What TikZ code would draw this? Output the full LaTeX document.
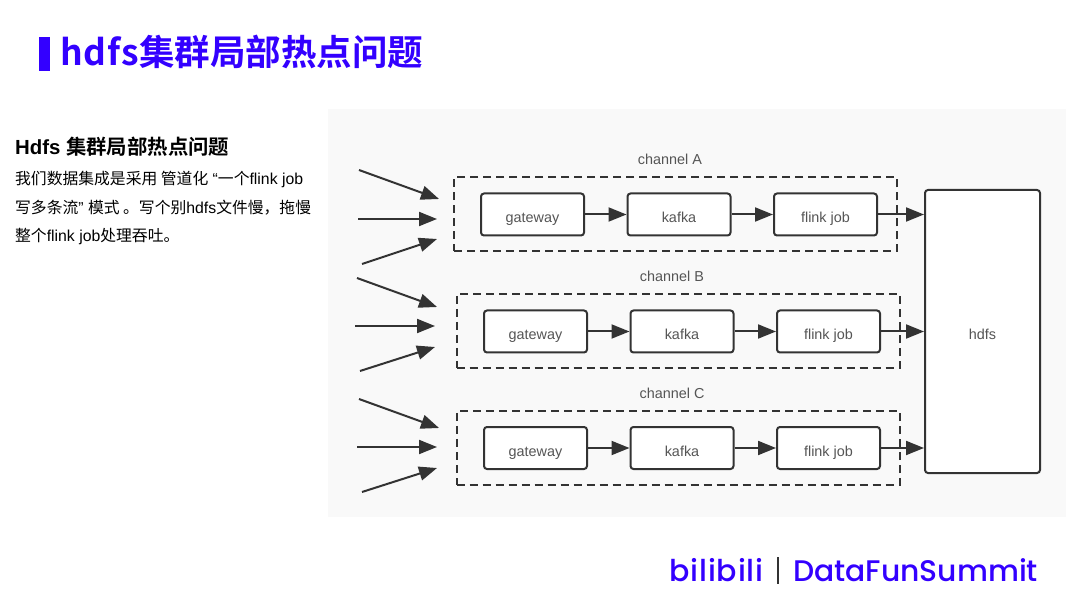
\documentclass[tikz,border=0pt]{standalone}
\usepackage{fontspec}
\usepackage{tikz}
\usetikzlibrary{arrows.meta,positioning}
\setmainfont{Liberation Sans}
\newfontfamily\cjk{Noto Sans CJK SC}
\newfontfamily\cjkbold{Noto Sans CJK SC Bold}
\newfontfamily\brandfont{Poppins Medium}
\newfontfamily\brandwide[LetterSpace=3]{Poppins Medium}
\newfontfamily\titlewide[LetterSpace=3]{Noto Sans CJK SC Bold}
\definecolor{brandblue}{HTML}{3300FF}
\definecolor{linegray}{HTML}{333333}
\definecolor{labelgray}{HTML}{555555}
\definecolor{panelgray}{HTML}{F9F9F9}
\tikzset{
    stage/.style={draw=linegray,line width=2pt,rounded corners=3pt,fill=white,
        minimum width=103pt,minimum height=42pt,text=labelgray,
        text height=19pt,text depth=3pt,
        font=\fontsize{14.4}{16}\selectfont},
    channel/.style={draw=linegray,line width=2pt,dash pattern=on 8pt off 5pt,
        minimum width=443pt,minimum height=74pt},
    caption/.style={text=labelgray,font=\fontsize{14.4}{16}\selectfont,inner sep=0pt},
    flow/.style={draw=linegray,line width=2pt,-{Triangle[length=18pt,width=14pt]}},
    body/.style={anchor=west,inner sep=0pt,font=\fontsize{15.8}{18}\selectfont},
}
\begin{document}
\begin{tikzpicture}[x=1pt,y=-1pt,node distance=146.5pt]
    \useasboundingbox (0,0) rectangle (1080,604);
    \node (panel) [fill=panelgray,minimum width=738pt,minimum height=408pt,inner sep=0pt] at (697,313) {};
    % header
    \node (bar) [fill=brandblue,minimum width=11pt,minimum height=34pt,inner sep=0pt] at (44.5,54) {};
    \node (title) [anchor=west,inner sep=0pt,text=brandblue,font=\fontsize{35.5}{40}\selectfont] at (60,52)
        {{\titlewide hdfs}{\cjkbold 集群局部热点问题}};
    % left column
    \node (heading) [anchor=west,inner sep=0pt,font=\fontsize{20.4}{24}\selectfont] at (15,147)
        {\textbf{Hdfs} {\cjkbold 集群局部热点问题}};
    \node (lineone) [body] at (15,179.5) {{\cjk 我们数据集成是采用 管道化} “{\cjk 一个}flink job};
    \node (linetwo) [body] at (15,207.5) {{\cjk 写多条流}” {\cjk 模式 。写个别}hdfs{\cjk 文件慢，拖慢}};
    \node (linethree) [body] at (15,236.5) {{\cjk 整个}flink job{\cjk 处理吞吐。}};
    % channel boxes
    \node (boxA) [channel] at (675.5,214.5) {};
    \node (boxB) [channel] at (678,331) {};
    \node (boxC) [channel] at (678,448) {};
    \node (capA) [caption] at (670,159) {channel A};
    \node (capB) [caption] at (672,276) {channel B};
    \node (capC) [caption] at (672,393) {channel C};
    % stages
    \node (gateA) [stage] at (532.5,214.5) {gateway};
    \node (kafA) [stage,right of=gateA] {kafka};
    \node (jobA) [stage,right of=kafA] {flink job};
    \node (gateB) [stage] at (535.5,331.5) {gateway};
    \node (kafB) [stage,right of=gateB] {kafka};
    \node (jobB) [stage,right of=kafB] {flink job};
    \node (gateC) [stage] at (535.5,448) {gateway};
    \node (kafC) [stage,right of=gateC] {kafka};
    \node (jobC) [stage,right of=kafC] {flink job};
    \node (hdfs) [stage,minimum width=115pt,minimum height=283pt] at (982.5,331.5) {hdfs};
    \draw[flow] (gateA) to (kafA);
    \draw[flow] (kafA) to (jobA);
    \draw[flow] (jobA.east) to (jobA.east -| hdfs.west);
    \draw[flow] (gateB) to (kafB);
    \draw[flow] (kafB) to (jobB);
    \draw[flow] (jobB.east) to (jobB.east -| hdfs.west);
    \draw[flow] (gateC) to (kafC);
    \draw[flow] (kafC) to (jobC);
    \draw[flow] (jobC.east) to (jobC.east -| hdfs.west);
    % incoming traffic
    \coordinate (a1s) at (359,170); \coordinate (a1e) at (439,199);
    \coordinate (a2s) at (358,219); \coordinate (a2e) at (437,219);
    \coordinate (a3s) at (362,264); \coordinate (a3e) at (437,239);
    \coordinate (b1s) at (357,278); \coordinate (b1e) at (437,307);
    \coordinate (b2s) at (355,326); \coordinate (b2e) at (435,326);
    \coordinate (b3s) at (360,371); \coordinate (b3e) at (435,347);
    \coordinate (c1s) at (359,399); \coordinate (c1e) at (439,428);
    \coordinate (c2s) at (357,447); \coordinate (c2e) at (437,447);
    \coordinate (c3s) at (362,492); \coordinate (c3e) at (437,468);
    \draw[flow] (a1s) to (a1e);
    \draw[flow] (a2s) to (a2e);
    \draw[flow] (a3s) to (a3e);
    \draw[flow] (b1s) to (b1e);
    \draw[flow] (b2s) to (b2e);
    \draw[flow] (b3s) to (b3e);
    \draw[flow] (c1s) to (c1e);
    \draw[flow] (c2s) to (c2e);
    \draw[flow] (c3s) to (c3e);
    % footer
    \node (bili) [anchor=west,inner sep=0pt,text=brandblue,font=\brandwide\fontsize{30}{36}\selectfont] at (669,570) {bilibili};
    \node (divider) [fill=linegray,minimum width=1.5pt,minimum height=27pt,inner sep=0pt] at (778,570) {};
    \node (summit) [anchor=west,inner sep=0pt,text=brandblue,font=\brandfont\fontsize{29.8}{36}\selectfont] at (793,570) {DataFunSummit};
\end{tikzpicture}
\end{document}
